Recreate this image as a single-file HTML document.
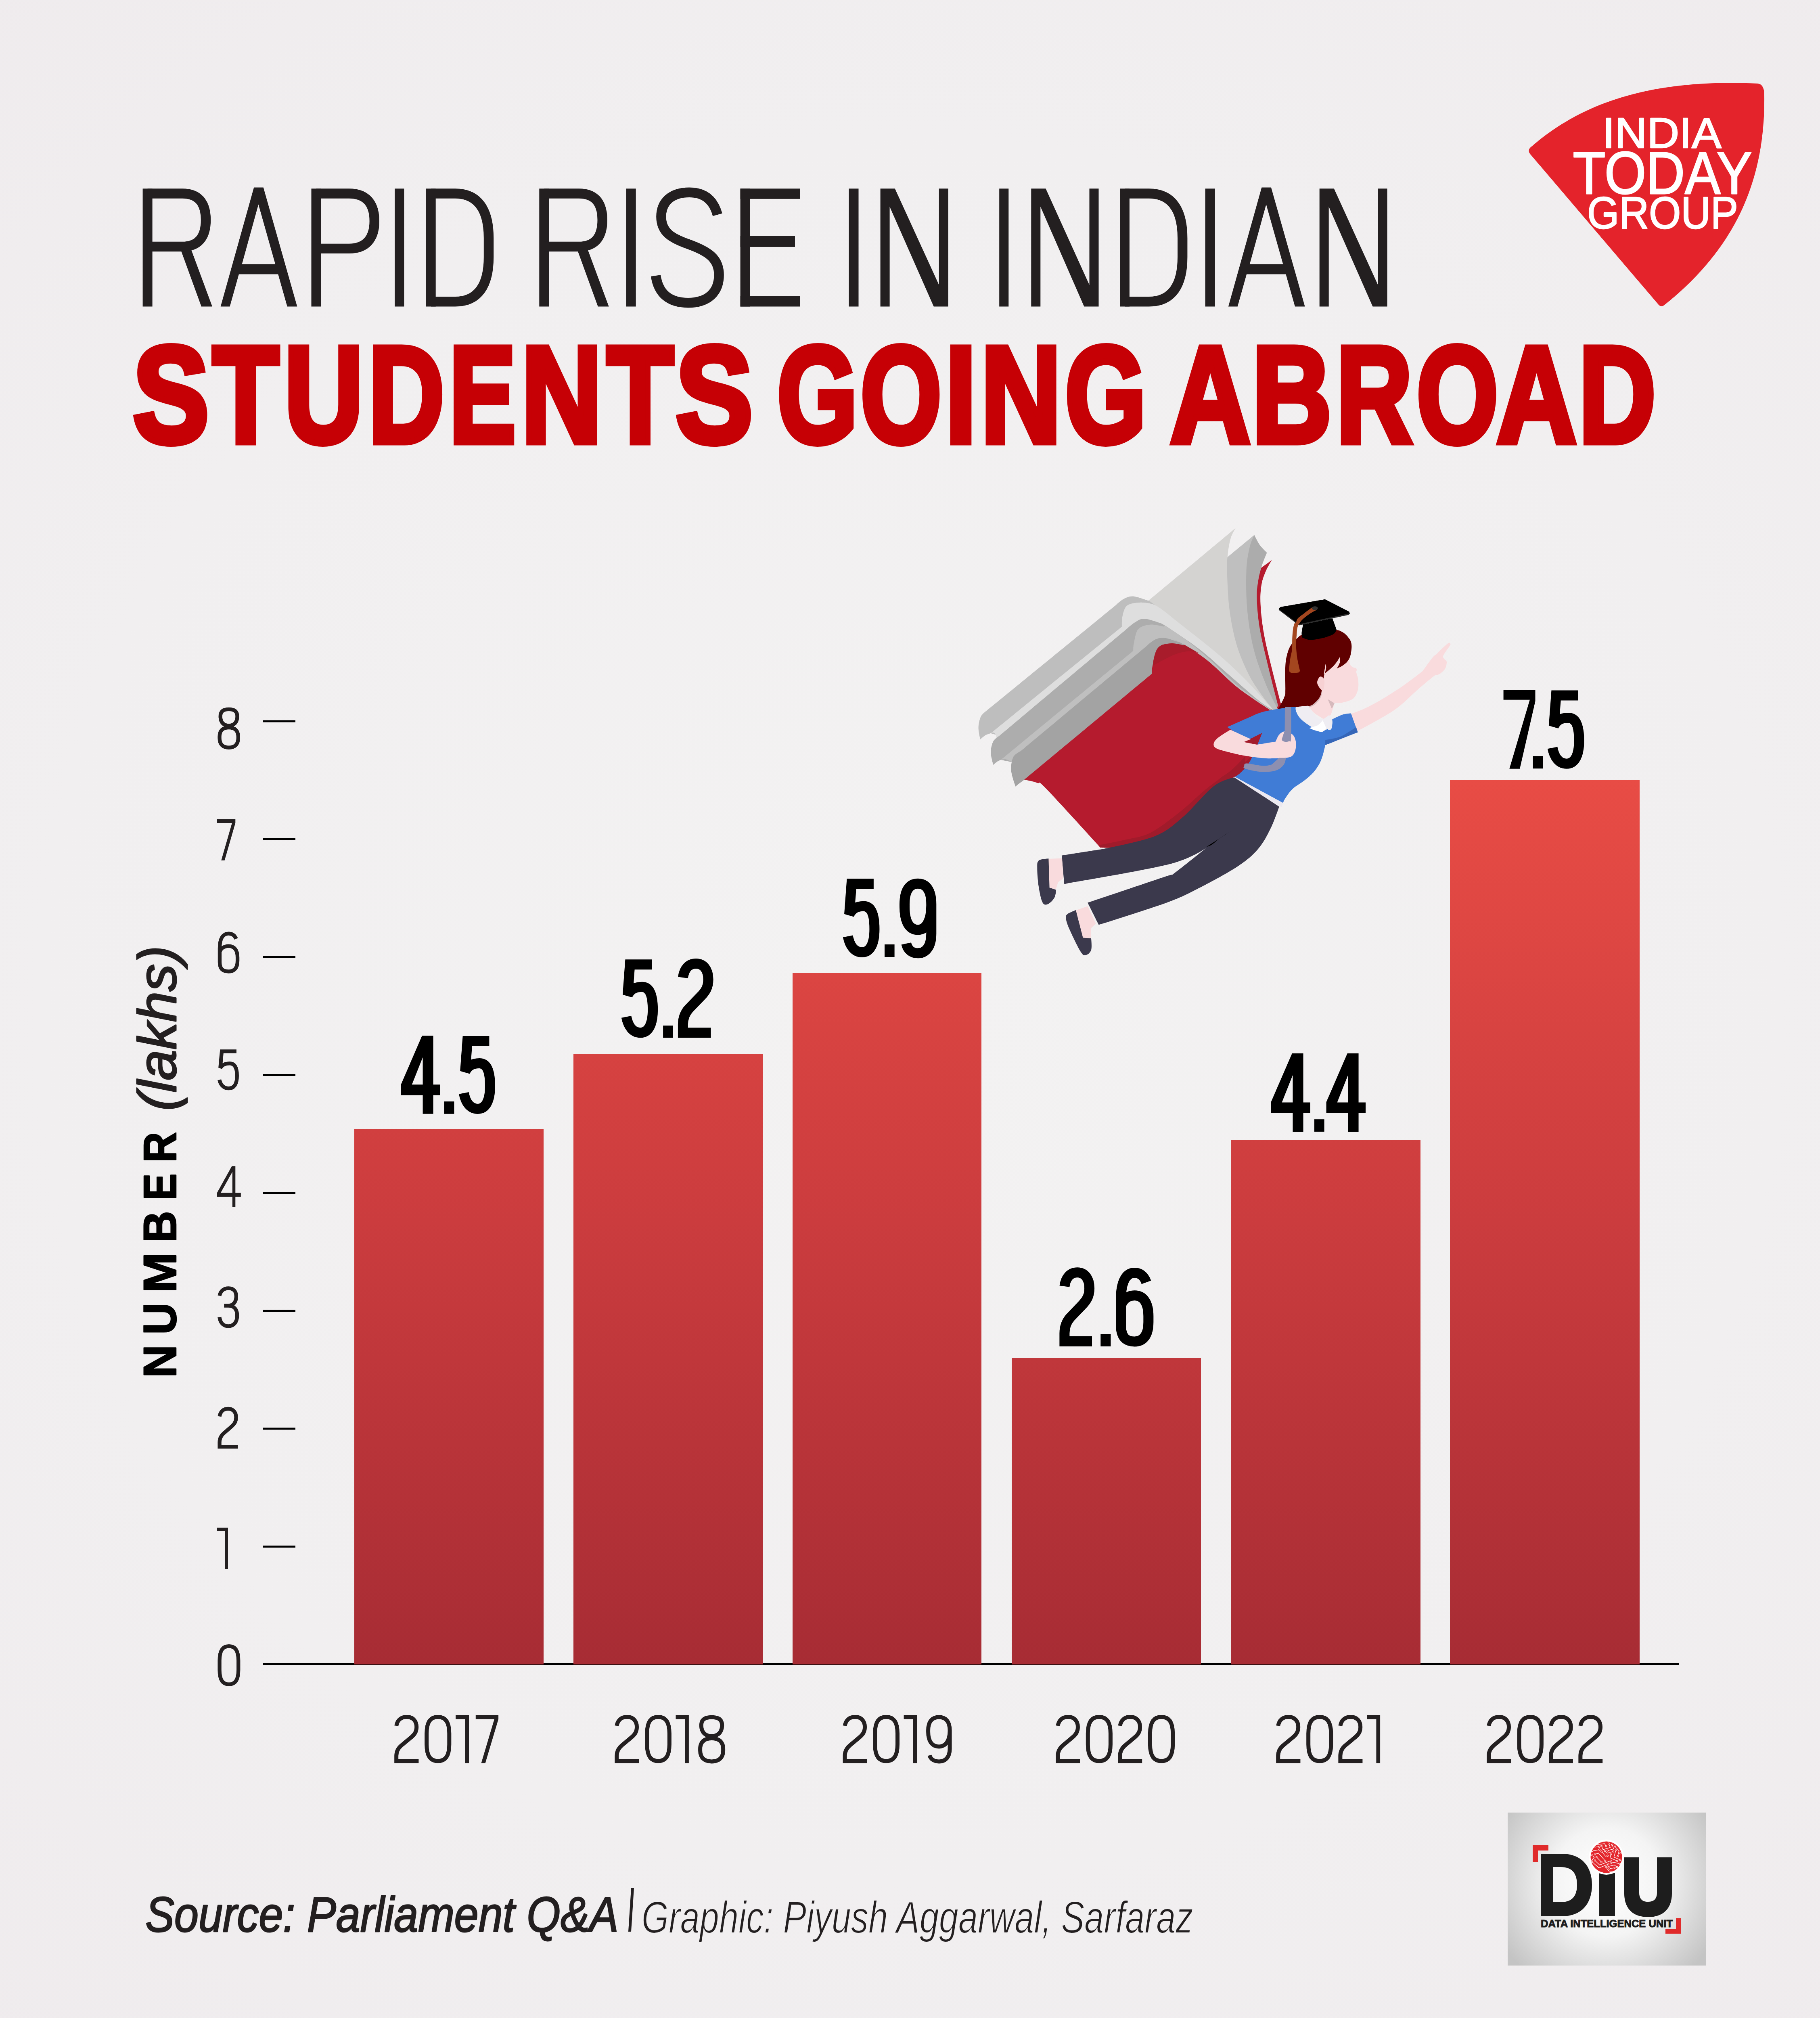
<!DOCTYPE html>
<html><head><meta charset="utf-8">
<style>
html,body{margin:0;padding:0;width:4510px;height:5151px;overflow:hidden;background:#f0eeef;}
svg{display:block;position:absolute;left:0;top:0;}
text{font-family:"Liberation Sans",sans-serif;}
</style></head>
<body>
<svg width="4510" height="5151" viewBox="0 0 4510 5151">
<defs>
<radialGradient id="bg" cx="2255" cy="2500" r="3600" gradientUnits="userSpaceOnUse">
<stop offset="0" stop-color="#f3f2f2"/>
<stop offset="0.6" stop-color="#f1eff0"/>
<stop offset="1" stop-color="#efebed"/>
</radialGradient>
<linearGradient id="bar" x1="0" y1="1932" x2="0" y2="4124" gradientUnits="userSpaceOnUse">
<stop offset="0" stop-color="#e84c45"/>
<stop offset="0.5" stop-color="#cb3c3e"/>
<stop offset="1" stop-color="#a72c34"/>
</linearGradient>
<radialGradient id="diubg" cx="3981" cy="4663" r="300" gradientUnits="userSpaceOnUse">
<stop offset="0" stop-color="#ffffff"/>
<stop offset="0.45" stop-color="#f4f4f4"/>
<stop offset="1" stop-color="#c4c4c4"/>
</radialGradient>
</defs>
<rect x="0" y="0" width="4510" height="5151" fill="url(#bg)"/>

<!-- TITLE -->
<g id="title">
<g id="title1">
<rect x="353.6" y="467.3" width="24.0" height="292.2" fill="#231f20"/>
<path d="M365.6 479.5 H452.0 C489.0 479.5 510.0 500.0 510.0 545.0 C510.0 590.0 489.0 611.0 452.0 611.0 H365.6" fill="none" stroke="#231f20" stroke-width="24.4"/>
<path d="M445.0 611.0 L471.0 611.0 L526.0 759.5 L499.0 759.5 Z" fill="#231f20" fill-rule="evenodd"/>
<path d="M629.2 464.6 L652.7 464.6 L736.4 759.5 L711.8 759.5 L689.2 679.5 L591.9 679.5 L569.5 759.5 L546.7 759.5 Z M640.4 506.5 L682.2 654.4 L599.6 654.4 Z" fill="#231f20" fill-rule="evenodd"/>
<rect x="771.5" y="467.3" width="23.5" height="292.2" fill="#231f20"/>
<path d="M783.5 479.5 H865.0 C906.0 479.5 927.8 503.0 927.8 547.7 C927.8 592.0 906.0 615.9 865.0 615.9 H783.5" fill="none" stroke="#231f20" stroke-width="24.4"/>
<rect x="978.0" y="467.3" width="23.4" height="292.2" fill="#231f20"/>
<rect x="1056.0" y="467.3" width="23.7" height="292.2" fill="#231f20"/>
<path d="M1068.0 479.5 H1128.0 C1186.0 479.5 1211.0 522.0 1211.0 590.0 L1211.0 637.0 C1211.0 705.0 1186.0 747.3 1128.0 747.3 H1068.0" fill="none" stroke="#231f20" stroke-width="24.4"/>
<rect x="1336.3" y="467.3" width="24.0" height="292.2" fill="#231f20"/>
<path d="M1348.3 479.5 H1434.7 C1471.7 479.5 1492.7 500.0 1492.7 545.0 C1492.7 590.0 1471.7 611.0 1434.7 611.0 H1348.3" fill="none" stroke="#231f20" stroke-width="24.4"/>
<path d="M1427.7 611.0 L1453.7 611.0 L1508.7 759.5 L1481.7 759.5 Z" fill="#231f20" fill-rule="evenodd"/>
<rect x="1551.7" y="467.3" width="24.0" height="292.2" fill="#231f20"/>
<path d="M1778 532 C1768 496 1746 476.8 1708 476.8 C1664 476.8 1638.4 500 1638.4 537 C1638.4 576 1666 591 1706 605 C1756 623 1781.6 641 1781.6 681 C1781.6 726 1752 750.2 1705 750.2 C1659 750.2 1631.5 728 1625 683" fill="none" stroke="#231f20" stroke-width="24.4"/>
<rect x="1834.6" y="467.3" width="24.2" height="292.2" fill="#231f20"/>
<rect x="1834.6" y="467.3" width="148.4" height="25.5" fill="#231f20"/>
<rect x="1834.6" y="585.0" width="135.4" height="26.9" fill="#231f20"/>
<rect x="1834.6" y="734.0" width="148.4" height="25.5" fill="#231f20"/>
<rect x="2103.5" y="467.3" width="24.0" height="292.2" fill="#231f20"/>
<path d="M2181.6 467.3 L2217.6 467.3 L2326.8 706.0 L2326.8 467.3 L2349.8 467.3 L2349.8 759.5 L2313.8 759.5 L2204.6 512.0 L2204.6 759.5 L2181.6 759.5 Z" fill="#231f20" fill-rule="evenodd"/>
<rect x="2476.2" y="467.3" width="23.1" height="292.2" fill="#231f20"/>
<path d="M2555.3 467.3 L2591.3 467.3 L2699.5 706.0 L2699.5 467.3 L2722.5 467.3 L2722.5 759.5 L2686.5 759.5 L2578.3 512.0 L2578.3 759.5 L2555.3 759.5 Z" fill="#231f20" fill-rule="evenodd"/>
<rect x="2775.2" y="467.3" width="23.7" height="292.2" fill="#231f20"/>
<path d="M2787.2 479.5 H2847.2 C2905.2 479.5 2930.2 522.0 2930.2 590.0 L2930.2 637.0 C2930.2 705.0 2905.2 747.3 2847.2 747.3 H2787.2" fill="none" stroke="#231f20" stroke-width="24.4"/>
<rect x="2986.6" y="467.3" width="24.3" height="292.2" fill="#231f20"/>
<path d="M3126.4 464.6 L3149.9 464.6 L3233.6 759.5 L3209.0 759.5 L3186.4 679.5 L3089.1 679.5 L3066.7 759.5 L3043.9 759.5 Z M3137.6 506.5 L3179.4 654.4 L3096.8 654.4 Z" fill="#231f20" fill-rule="evenodd"/>
<path d="M3269.7 467.3 L3305.7 467.3 L3414.6 706.0 L3414.6 467.3 L3437.6 467.3 L3437.6 759.5 L3401.6 759.5 L3292.7 512.0 L3292.7 759.5 L3269.7 759.5 Z" fill="#231f20" fill-rule="evenodd"/>
</g>
<g id="title2" fill="#c60005" stroke="#c60005" stroke-width="16" stroke-linejoin="miter" font-weight="bold">
<text x="329.5" y="1095.6" font-size="340.4" textLength="188.4" lengthAdjust="spacingAndGlyphs">S</text>
<text x="527.1" y="1095.6" font-size="340.4" textLength="164.0" lengthAdjust="spacingAndGlyphs">T</text>
<text x="704.7" y="1095.6" font-size="340.4" textLength="195.4" lengthAdjust="spacingAndGlyphs">U</text>
<text x="912.8" y="1095.6" font-size="340.4" textLength="188.1" lengthAdjust="spacingAndGlyphs">D</text>
<text x="1113.4" y="1095.6" font-size="340.4" textLength="164.7" lengthAdjust="spacingAndGlyphs">E</text>
<text x="1292.2" y="1095.6" font-size="340.4" textLength="199.9" lengthAdjust="spacingAndGlyphs">N</text>
<text x="1504.0" y="1095.6" font-size="340.4" textLength="164.5" lengthAdjust="spacingAndGlyphs">T</text>
<text x="1674.6" y="1095.6" font-size="340.4" textLength="190.9" lengthAdjust="spacingAndGlyphs">S</text>
<text x="1926.0" y="1095.6" font-size="340.4" textLength="199.1" lengthAdjust="spacingAndGlyphs">G</text>
<text x="2132.6" y="1095.6" font-size="340.4" textLength="200.5" lengthAdjust="spacingAndGlyphs">O</text>
<text x="2342.7" y="1095.6" font-size="340.4" textLength="76.6" lengthAdjust="spacingAndGlyphs">I</text>
<text x="2430.6" y="1095.6" font-size="340.4" textLength="199.1" lengthAdjust="spacingAndGlyphs">N</text>
<text x="2639.4" y="1095.6" font-size="340.4" textLength="201.0" lengthAdjust="spacingAndGlyphs">G</text>
<text x="2899.8" y="1095.6" font-size="340.4" textLength="198.5" lengthAdjust="spacingAndGlyphs">A</text>
<text x="3102.7" y="1095.6" font-size="340.4" textLength="196.8" lengthAdjust="spacingAndGlyphs">B</text>
<text x="3311.5" y="1095.6" font-size="340.4" textLength="187.8" lengthAdjust="spacingAndGlyphs">R</text>
<text x="3510.5" y="1095.6" font-size="340.4" textLength="201.8" lengthAdjust="spacingAndGlyphs">O</text>
<text x="3708.8" y="1095.6" font-size="340.4" textLength="197.8" lengthAdjust="spacingAndGlyphs">A</text>
<text x="3912.5" y="1095.6" font-size="340.4" textLength="190.2" lengthAdjust="spacingAndGlyphs">D</text>
</g>


</g>

<!-- LOGO -->
<g id="logo">
<path d="M3794 364 C3925 250 4100 195 4356 207 Q4372 209 4372 236 C4374 420 4320 600 4124 756 Q4117 762 4110 755 L3792 382 Q3784 372 3794 364 Z" fill="#e4232b"/>
<g fill="#fff" stroke="#fff" stroke-linejoin="round">
<text x="3971.1" y="365.8" font-size="106.1" stroke-width="2.5" textLength="294.6" lengthAdjust="spacingAndGlyphs">INDIA</text>
<text x="3897.4" y="479.5" font-size="148.3" stroke-width="3" textLength="444.7" lengthAdjust="spacingAndGlyphs">TODAY</text>
<text x="3933.1" y="566.3" font-size="111.2" stroke-width="2.5" textLength="374" lengthAdjust="spacingAndGlyphs">GROUP</text>
</g>
</g>

<!-- AXIS -->
<g id="axis" fill="#000">
<rect x="651" y="4121" width="3509" height="5"/>
<rect x="651" y="1784.5" width="81" height="5"/>
<rect x="651" y="2076.6" width="81" height="5"/>
<rect x="651" y="2368.8" width="81" height="5"/>
<rect x="651" y="2661" width="81" height="5"/>
<rect x="651" y="2953.1" width="81" height="5"/>
<rect x="651" y="3245.3" width="81" height="5"/>
<rect x="651" y="3537.4" width="81" height="5"/>
<rect x="651" y="3829.6" width="81" height="5"/>
</g>


<!-- BARS -->
<g id="bars" fill="url(#bar)">
<rect x="878" y="2798" width="469" height="1326"/>
<rect x="1421" y="2611" width="469" height="1513"/>
<rect x="1964" y="2411" width="468" height="1713"/>
<rect x="2507" y="3365" width="469" height="759"/>
<rect x="3050" y="2825" width="470" height="1299"/>
<rect x="3593" y="1932" width="470" height="2192"/>
</g>

<g id="ylabels">
<path transform="matrix(0.83207 0 0 0.86723 539.90 4074.40)" d="M5 46 C5 17 15 5 33 5 C51 5 61.1 17 61.1 46 L61.1 73 C61.1 102 51 114 33 114 C15 114 5 102 5 73 Z" fill="none" stroke="#231f20" stroke-width="9.30" vector-effect="non-scaling-stroke"/>
<path transform="matrix(0.82067 0 0 0.85714 538.00 3785.00)" d="M0 0 H32.9 V119 H23.2 V10.5 H0 Z" fill="#231f20" fill-rule="evenodd"/>
<path transform="matrix(0.81954 0 0 0.86387 539.80 3486.20)" d="M5.2 27 C7.5 13 17 5 31 5 C46 5 55.2 15 55.2 30 C55.2 42 50 49 40 57 L17 76 C9 83 5.2 91 5.2 101 L5.2 114 L60.4 114" fill="none" stroke="#231f20" stroke-width="9.30" vector-effect="non-scaling-stroke"/>
<path transform="matrix(0.87227 0 0 0.87227 539.70 3187.00)" d="M4.8 27 C8 13 17 5.7 30.6 5.7 C45 5.7 52.4 15 52.4 29 C52.4 45 43 55.1 30 55.1 L17.8 55.1 M30 55.1 C46 55.1 55 66 55 83 C55 103 44 113.3 30.3 113.3 C16 113.3 7 104 4.7 87.5" fill="none" stroke="#231f20" stroke-width="9.30" vector-effect="non-scaling-stroke"/>
<path transform="matrix(0.85507 0 0 0.85462 537.80 2889.30)" d="M43 0 L53.2 0 L53.2 77.4 L69 77.4 L69 88.8 L53.2 88.8 L53.2 119 L44.5 119 L44.5 88.8 L0 88.8 L0 77.4 Z M44.5 16.6 L10.5 77.4 L44.5 77.4 Z" fill="#231f20" fill-rule="evenodd"/>
<path transform="matrix(0.85149 0 0 0.85210 539.70 2600.00)" d="M54.3 5.7 L11.6 5.7 L7.2 54 C13 45 21 41 35 41 C50 41 55.9 54 55.9 77 C55.9 101 47 113.5 32 113.5 C17 113.5 8 103 4.6 88.4" fill="none" stroke="#231f20" stroke-width="9.30" vector-effect="non-scaling-stroke"/>
<path transform="matrix(0.86767 0 0 0.86975 540.60 2308.20)" d="M51.4 20.6 C47 10 39 5.6 29.7 5.6 C14 5.6 4.4 19.5 4.4 48 L4.4 87 C4.4 107 14 113.6 29.9 113.6 C46 113.6 55.3 103.5 55.3 83 L55.3 73.6 C55.3 53 46 41.2 29.9 41.2 C17 41.2 8 48 4.4 57.5" fill="none" stroke="#231f20" stroke-width="9.30" vector-effect="non-scaling-stroke"/>
<path transform="matrix(0.82238 0 0 0.85546 537.00 2030.00)" d="M0 0 H56.3 V10.5 L23.8 119 H13.7 L46.2 10.5 H0 Z" fill="#231f20" fill-rule="evenodd"/>
<path transform="matrix(0.81222 0 0 0.86807 539.80 1752.40)" d="M7.9 26 C7.9 12 16 5.8 33.6 5.8 C51 5.8 59.3 12 59.3 26 C59.3 43 49 52.4 33.6 52.4 C18 52.4 7.9 43 7.9 26 Z M5.2 84 C5.2 66 16 57.9 33.6 57.9 C51 57.9 62.2 66 62.2 84 L62.2 88 C62.2 106 51 115 33.6 115 C16 115 5.2 106 5.2 88 Z" fill="none" stroke="#231f20" stroke-width="9.30" vector-effect="non-scaling-stroke"/>
</g>
<g id="years">
<path transform="matrix(1.00000 0 0 1.00420 977.00 4248.90)" d="M5.2 27 C7.5 13 17 5 31 5 C46 5 55.2 15 55.2 30 C55.2 42 50 49 40 57 L17 76 C9 83 5.2 91 5.2 101 L5.2 114 L60.4 114" fill="none" stroke="#231f20" stroke-width="10.00" vector-effect="non-scaling-stroke"/>
<path transform="matrix(1.00000 0 0 1.00420 1052.20 4248.90)" d="M5 46 C5 17 15 5 33 5 C51 5 61.1 17 61.1 46 L61.1 73 C61.1 102 51 114 33 114 C15 114 5 102 5 73 Z" fill="none" stroke="#231f20" stroke-width="10.00" vector-effect="non-scaling-stroke"/>
<path transform="matrix(1.00000 0 0 1.00420 1129.10 4248.90)" d="M0 0 H32.9 V119 H23.2 V10.5 H0 Z" fill="#231f20" fill-rule="evenodd"/>
<path transform="matrix(1.00000 0 0 1.00420 1178.80 4248.90)" d="M0 0 H56.3 V10.5 L23.8 119 H13.7 L46.2 10.5 H0 Z" fill="#231f20" fill-rule="evenodd"/>
<path transform="matrix(0.99338 0 0 1.00420 1523.20 4248.90)" d="M5.2 27 C7.5 13 17 5 31 5 C46 5 55.2 15 55.2 30 C55.2 42 50 49 40 57 L17 76 C9 83 5.2 91 5.2 101 L5.2 114 L60.4 114" fill="none" stroke="#231f20" stroke-width="10.00" vector-effect="non-scaling-stroke"/>
<path transform="matrix(0.98941 0 0 1.00420 1598.40 4248.90)" d="M5 46 C5 17 15 5 33 5 C51 5 61.1 17 61.1 46 L61.1 73 C61.1 102 51 114 33 114 C15 114 5 102 5 73 Z" fill="none" stroke="#231f20" stroke-width="10.00" vector-effect="non-scaling-stroke"/>
<path transform="matrix(0.98480 0 0 1.00420 1674.50 4248.90)" d="M0 0 H32.9 V119 H23.2 V10.5 H0 Z" fill="#231f20" fill-rule="evenodd"/>
<path transform="matrix(1.00000 0 0 1.00420 1729.90 4248.90)" d="M7.9 26 C7.9 12 16 5.8 33.6 5.8 C51 5.8 59.3 12 59.3 26 C59.3 43 49 52.4 33.6 52.4 C18 52.4 7.9 43 7.9 26 Z M5.2 84 C5.2 66 16 57.9 33.6 57.9 C51 57.9 62.2 66 62.2 84 L62.2 88 C62.2 106 51 115 33.6 115 C16 115 5.2 106 5.2 88 Z" fill="none" stroke="#231f20" stroke-width="10.00" vector-effect="non-scaling-stroke"/>
<path transform="matrix(0.99007 0 0 1.00420 2088.40 4248.90)" d="M5.2 27 C7.5 13 17 5 31 5 C46 5 55.2 15 55.2 30 C55.2 42 50 49 40 57 L17 76 C9 83 5.2 91 5.2 101 L5.2 114 L60.4 114" fill="none" stroke="#231f20" stroke-width="10.00" vector-effect="non-scaling-stroke"/>
<path transform="matrix(0.99546 0 0 1.00420 2163.20 4248.90)" d="M5 46 C5 17 15 5 33 5 C51 5 61.1 17 61.1 46 L61.1 73 C61.1 102 51 114 33 114 C15 114 5 102 5 73 Z" fill="none" stroke="#231f20" stroke-width="10.00" vector-effect="non-scaling-stroke"/>
<path transform="matrix(0.98480 0 0 1.00420 2239.60 4248.90)" d="M0 0 H32.9 V119 H23.2 V10.5 H0 Z" fill="#231f20" fill-rule="evenodd"/>
<path transform="matrix(1.00000 0 0 1.00420 2295.10 4248.90)" d="M58.4 40 C58.4 64 48 78.2 31.8 78.2 C15 78.2 5 66 5 42 L5 38 C5 16 15 5.5 31.8 5.5 C48 5.5 58.4 16 58.4 38 L58.4 84 C58.4 104 48 115 31.8 115 C19 115 11 109 8.4 99.8" fill="none" stroke="#231f20" stroke-width="10.00" vector-effect="non-scaling-stroke"/>
<path transform="matrix(0.99172 0 0 1.00420 2616.20 4248.90)" d="M5.2 27 C7.5 13 17 5 31 5 C46 5 55.2 15 55.2 30 C55.2 42 50 49 40 57 L17 76 C9 83 5.2 91 5.2 101 L5.2 114 L60.4 114" fill="none" stroke="#231f20" stroke-width="10.00" vector-effect="non-scaling-stroke"/>
<path transform="matrix(1.00000 0 0 1.00420 2690.80 4248.90)" d="M5 46 C5 17 15 5 33 5 C51 5 61.1 17 61.1 46 L61.1 73 C61.1 102 51 114 33 114 C15 114 5 102 5 73 Z" fill="none" stroke="#231f20" stroke-width="10.00" vector-effect="non-scaling-stroke"/>
<path transform="matrix(0.99172 0 0 1.00420 2770.30 4248.90)" d="M5.2 27 C7.5 13 17 5 31 5 C46 5 55.2 15 55.2 30 C55.2 42 50 49 40 57 L17 76 C9 83 5.2 91 5.2 101 L5.2 114 L60.4 114" fill="none" stroke="#231f20" stroke-width="10.00" vector-effect="non-scaling-stroke"/>
<path transform="matrix(1.00303 0 0 1.00420 2844.90 4248.90)" d="M5 46 C5 17 15 5 33 5 C51 5 61.1 17 61.1 46 L61.1 73 C61.1 102 51 114 33 114 C15 114 5 102 5 73 Z" fill="none" stroke="#231f20" stroke-width="10.00" vector-effect="non-scaling-stroke"/>
<path transform="matrix(1.00000 0 0 1.00420 3162.00 4248.90)" d="M5.2 27 C7.5 13 17 5 31 5 C46 5 55.2 15 55.2 30 C55.2 42 50 49 40 57 L17 76 C9 83 5.2 91 5.2 101 L5.2 114 L60.4 114" fill="none" stroke="#231f20" stroke-width="10.00" vector-effect="non-scaling-stroke"/>
<path transform="matrix(1.00000 0 0 1.00420 3237.20 4248.90)" d="M5 46 C5 17 15 5 33 5 C51 5 61.1 17 61.1 46 L61.1 73 C61.1 102 51 114 33 114 C15 114 5 102 5 73 Z" fill="none" stroke="#231f20" stroke-width="10.00" vector-effect="non-scaling-stroke"/>
<path transform="matrix(0.99669 0 0 1.00420 3316.20 4248.90)" d="M5.2 27 C7.5 13 17 5 31 5 C46 5 55.2 15 55.2 30 C55.2 42 50 49 40 57 L17 76 C9 83 5.2 91 5.2 101 L5.2 114 L60.4 114" fill="none" stroke="#231f20" stroke-width="10.00" vector-effect="non-scaling-stroke"/>
<path transform="matrix(0.99696 0 0 1.00420 3387.30 4248.90)" d="M0 0 H32.9 V119 H23.2 V10.5 H0 Z" fill="#231f20" fill-rule="evenodd"/>
<path transform="matrix(0.99669 0 0 1.00420 3684.00 4248.90)" d="M5.2 27 C7.5 13 17 5 31 5 C46 5 55.2 15 55.2 30 C55.2 42 50 49 40 57 L17 76 C9 83 5.2 91 5.2 101 L5.2 114 L60.4 114" fill="none" stroke="#231f20" stroke-width="10.00" vector-effect="non-scaling-stroke"/>
<path transform="matrix(0.98790 0 0 1.00420 3759.50 4248.90)" d="M5 46 C5 17 15 5 33 5 C51 5 61.1 17 61.1 46 L61.1 73 C61.1 102 51 114 33 114 C15 114 5 102 5 73 Z" fill="none" stroke="#231f20" stroke-width="10.00" vector-effect="non-scaling-stroke"/>
<path transform="matrix(0.99007 0 0 1.00420 3838.10 4248.90)" d="M5.2 27 C7.5 13 17 5 31 5 C46 5 55.2 15 55.2 30 C55.2 42 50 49 40 57 L17 76 C9 83 5.2 91 5.2 101 L5.2 114 L60.4 114" fill="none" stroke="#231f20" stroke-width="10.00" vector-effect="non-scaling-stroke"/>
<path transform="matrix(0.99338 0 0 1.00420 3911.20 4248.90)" d="M5.2 27 C7.5 13 17 5 31 5 C46 5 55.2 15 55.2 30 C55.2 42 50 49 40 57 L17 76 C9 83 5.2 91 5.2 101 L5.2 114 L60.4 114" fill="none" stroke="#231f20" stroke-width="10.00" vector-effect="non-scaling-stroke"/>
</g>
<g id="vals">
<path transform="matrix(1.62647 0 0 1.62857 993.90 2566.00)" d="M32 0 L49 0 L49 74.5 L59.7 74.5 L59.7 90.6 L49 90.6 L49 119 L33 119 L33 90.6 L0 90.6 L0 74 Z M33 33 L33 74.5 L16.5 74.5 Z" fill="#000" fill-rule="evenodd"/>
<rect x="1101.0" y="2729.1" width="24.4" height="30.7" fill="#000"/>
<path transform="matrix(1.26840 0 0 1.55744 1143.52 2570.68)" d="M54.3 5.7 L11.6 5.7 L7.2 54 C13 45 21 41 35 41 C50 41 55.9 54 55.9 77 C55.9 101 47 113.5 32 113.5 C17 113.5 8 103 4.6 88.4" fill="none" stroke="#000" stroke-width="25.0" vector-effect="non-scaling-stroke"/>
<path transform="matrix(1.27824 0 0 1.56661 1546.17 2380.94)" d="M54.3 5.7 L11.6 5.7 L7.2 54 C13 45 21 41 35 41 C50 41 55.9 54 55.9 77 C55.9 101 47 113.5 32 113.5 C17 113.5 8 103 4.6 88.4" fill="none" stroke="#000" stroke-width="25.0" vector-effect="non-scaling-stroke"/>
<rect x="1643.1" y="2541.0" width="24.1" height="30.2" fill="#000"/>
<path transform="matrix(1.25370 0 0 1.57119 1685.89 2379.61)" d="M5.2 27 C7.5 13 17 5 31 5 C46 5 55.2 15 55.2 30 C55.2 42 50 49 40 57 L17 76 C9 83 5.2 91 5.2 101 L5.2 114 L60.4 114" fill="none" stroke="#000" stroke-width="25.0" vector-effect="non-scaling-stroke"/>
<path transform="matrix(1.28218 0 0 1.57578 2095.25 2180.59)" d="M54.3 5.7 L11.6 5.7 L7.2 54 C13 45 21 41 35 41 C50 41 55.9 54 55.9 77 C55.9 101 47 113.5 32 113.5 C17 113.5 8 103 4.6 88.4" fill="none" stroke="#000" stroke-width="25.0" vector-effect="non-scaling-stroke"/>
<rect x="2192.0" y="2340.0" width="24.6" height="31.0" fill="#000"/>
<path transform="matrix(1.24185 0 0 1.57578 2235.26 2180.59)" d="M58.4 40 C58.4 64 48 78.2 31.8 78.2 C15 78.2 5 66 5 42 L5 38 C5 16 15 5.5 31.8 5.5 C48 5.5 58.4 16 58.4 38 L58.4 84 C58.4 104 48 115 31.8 115 C19 115 11 109 8.4 99.8" fill="none" stroke="#000" stroke-width="25.0" vector-effect="non-scaling-stroke"/>
<path transform="matrix(1.23395 0 0 1.56753 2631.48 3144.83)" d="M5.2 27 C7.5 13 17 5 31 5 C46 5 55.2 15 55.2 30 C55.2 42 50 49 40 57 L17 76 C9 83 5.2 91 5.2 101 L5.2 114 L60.4 114" fill="none" stroke="#000" stroke-width="25.0" vector-effect="non-scaling-stroke"/>
<rect x="2727.3" y="3305.0" width="25.1" height="31.0" fill="#000"/>
<path transform="matrix(1.34149 0 0 1.57670 2771.66 3144.79)" d="M51.4 20.6 C47 10 39 5.6 29.7 5.6 C14 5.6 4.4 19.5 4.4 48 L4.4 87 C4.4 107 14 113.6 29.9 113.6 C46 113.6 55.3 103.5 55.3 83 L55.3 73.6 C55.3 53 46 41.2 29.9 41.2 C17 41.2 8 48 4.4 57.5" fill="none" stroke="#000" stroke-width="25.0" vector-effect="non-scaling-stroke"/>
<path transform="matrix(1.63149 0 0 1.62941 3149.60 2610.00)" d="M32 0 L49 0 L49 74.5 L59.7 74.5 L59.7 90.6 L49 90.6 L49 119 L33 119 L33 90.6 L0 90.6 L0 74 Z M33 33 L33 74.5 L16.5 74.5 Z" fill="#000" fill-rule="evenodd"/>
<rect x="3257.0" y="2773.2" width="24.6" height="30.7" fill="#000"/>
<path transform="matrix(1.63149 0 0 1.62941 3286.60 2610.00)" d="M32 0 L49 0 L49 74.5 L59.7 74.5 L59.7 90.6 L49 90.6 L49 119 L33 119 L33 90.6 L0 90.6 L0 74 Z M33 33 L33 74.5 L16.5 74.5 Z" fill="#000" fill-rule="evenodd"/>
<path transform="matrix(1.64033 0 0 1.64118 3725.60 1709.40)" d="M0 0 L48.1 0 L48.1 17 L24.7 119 L9 119 L39.8 14.8 L0 14.8 Z" fill="#000" fill-rule="evenodd"/>
<rect x="3798.7" y="1873.2" width="25.1" height="31.0" fill="#000"/>
<path transform="matrix(1.28611 0 0 1.57028 3841.13 1714.02)" d="M54.3 5.7 L11.6 5.7 L7.2 54 C13 45 21 41 35 41 C50 41 55.9 54 55.9 77 C55.9 101 47 113.5 32 113.5 C17 113.5 8 103 4.6 88.4" fill="none" stroke="#000" stroke-width="25.0" vector-effect="non-scaling-stroke"/>
</g>
<g transform="rotate(-90)">
<text x="-3413.9" y="435.8" font-size="115.55" textLength="82.3" lengthAdjust="spacingAndGlyphs" fill="#000" font-weight="bold" stroke="#000" stroke-width="2.5" stroke-linejoin="round">N</text>
<text x="-3307.1" y="435.8" font-size="115.55" textLength="79.5" lengthAdjust="spacingAndGlyphs" fill="#000" font-weight="bold" stroke="#000" stroke-width="2.5" stroke-linejoin="round">U</text>
<text x="-3203.5" y="435.8" font-size="115.55" textLength="100.3" lengthAdjust="spacingAndGlyphs" fill="#000" font-weight="bold" stroke="#000" stroke-width="2.5" stroke-linejoin="round">M</text>
<text x="-3078.9" y="435.8" font-size="115.55" textLength="78.9" lengthAdjust="spacingAndGlyphs" fill="#000" font-weight="bold" stroke="#000" stroke-width="2.5" stroke-linejoin="round">B</text>
<text x="-2973.9" y="435.8" font-size="115.55" textLength="66.6" lengthAdjust="spacingAndGlyphs" fill="#000" font-weight="bold" stroke="#000" stroke-width="2.5" stroke-linejoin="round">E</text>
<text x="-2880.8" y="435.8" font-size="115.55" textLength="76.2" lengthAdjust="spacingAndGlyphs" fill="#000" font-weight="bold" stroke="#000" stroke-width="2.5" stroke-linejoin="round">R</text>
<text x="-2752.5" y="435.7" font-size="133.72" textLength="409.6" lengthAdjust="spacingAndGlyphs" font-style="italic" fill="#231f20" stroke="#231f20" stroke-width="3" stroke-linejoin="round">(lakhs)</text>
</g>






<!-- SOURCE -->
<text x="360.3" y="4786.3" font-size="122.1" font-style="italic" fill="#231f20" stroke="#231f20" stroke-width="3" stroke-linejoin="round" textLength="1172.3" lengthAdjust="spacingAndGlyphs">Source: Parliament Q&amp;A</text>
<polygon points="1564,4678 1571,4678 1564,4786 1557,4786" fill="#231f20"/>
<text x="1589.7" y="4788.6" font-size="110.5" font-style="italic" fill="#231f20" stroke="#f1eff0" stroke-width="2" textLength="1366.8" lengthAdjust="spacingAndGlyphs">Graphic: Piyush Aggarwal, Sarfaraz</text>

<!-- DIU LOGO -->
<g id="diu">
<rect x="3736" y="4491" width="491" height="379" fill="url(#diubg)"/>
<path fill="#e02a2a" d="M3798 4572 H3837 V4585 H3811 V4613 H3798 Z"/>
<path fill="#e02a2a" d="M4166 4791 H4127 V4779 H4153 V4753 H4166 Z"/>
<path fill="#1d1d1d" fill-rule="evenodd" d="M3818 4593 H3870 C3920 4593 3945 4625 3945 4670 C3945 4716 3920 4748 3870 4748 H3818 Z M3848 4626 V4713 H3868 C3896 4713 3908 4697 3908 4670 C3908 4642 3896 4626 3868 4626 Z"/>
<rect x="3962" y="4640" width="40" height="108" fill="#1d1d1d"/>
<path fill="#1d1d1d" d="M4025 4602 H4062 V4690 C4062 4705 4070 4712 4084 4712 C4098 4712 4106 4705 4106 4690 V4602 H4143 V4692 C4143 4728 4122 4750 4084 4750 C4046 4750 4025 4728 4025 4692 Z"/>
<circle cx="3980.5" cy="4601.5" r="43.5" fill="#ffffff"/>
<circle cx="3980.5" cy="4601.5" r="39" fill="#e3262c"/>
<g transform="translate(3930 4550) scale(0.0558)" stroke="#fff" fill="none" stroke-width="24" stroke-linejoin="miter">
<path d="M470 370 L820 320 L890 420"/>
<path d="M380 480 L590 460"/>
<path d="M240 700 L330 640 L600 590"/>
<path d="M690 430 L760 590 L1080 490 L1010 320"/>
<path d="M1170 370 L1230 560 L960 630"/>
<path d="M1290 450 L1470 640 L1410 880"/>
<path d="M830 650 L940 750 L1210 670"/>
<path d="M690 670 L870 880 L960 860"/>
<path d="M400 800 L550 740 L860 1090"/>
<path d="M280 840 L370 930 L240 1090"/>
<path d="M470 920 L690 1140"/>
<path d="M1110 800 L1070 950 L1390 1090"/>
<path d="M1330 620 L1240 920 L1520 1040"/>
<path d="M400 1070 L610 1270 L1100 1080"/>
<path d="M270 1120 L370 1220 L580 1400 L1000 1230"/>
<path d="M1130 1180 L1250 1150 L1500 1220"/>
<path d="M880 1360 L1020 1540 L1180 1550"/>
<path d="M970 1340 L1260 1270 L1380 1360"/>
<path d="M1040 1430 L1270 1400"/>
<circle cx="890" cy="440" r="34" fill="#e3262c" stroke-width="20"/>
<circle cx="590" cy="460" r="34" fill="#e3262c" stroke-width="20"/>
<circle cx="600" cy="590" r="34" fill="#e3262c" stroke-width="20"/>
<circle cx="690" cy="430" r="34" fill="#e3262c" stroke-width="20"/>
<circle cx="1010" cy="320" r="34" fill="#e3262c" stroke-width="20"/>
<circle cx="1170" cy="370" r="34" fill="#e3262c" stroke-width="20"/>
<circle cx="960" cy="630" r="34" fill="#e3262c" stroke-width="20"/>
<circle cx="1290" cy="450" r="34" fill="#e3262c" stroke-width="20"/>
<circle cx="1410" cy="880" r="34" fill="#e3262c" stroke-width="20"/>
<circle cx="830" cy="650" r="34" fill="#e3262c" stroke-width="20"/>
<circle cx="1210" cy="670" r="34" fill="#e3262c" stroke-width="20"/>
<circle cx="690" cy="670" r="34" fill="#e3262c" stroke-width="20"/>
<circle cx="960" cy="860" r="34" fill="#e3262c" stroke-width="20"/>
<circle cx="400" cy="800" r="34" fill="#e3262c" stroke-width="20"/>
<circle cx="860" cy="1090" r="34" fill="#e3262c" stroke-width="20"/>
<circle cx="280" cy="840" r="34" fill="#e3262c" stroke-width="20"/>
<circle cx="470" cy="920" r="34" fill="#e3262c" stroke-width="20"/>
<circle cx="690" cy="1140" r="34" fill="#e3262c" stroke-width="20"/>
<circle cx="1110" cy="800" r="34" fill="#e3262c" stroke-width="20"/>
<circle cx="1390" cy="1090" r="34" fill="#e3262c" stroke-width="20"/>
<circle cx="1330" cy="620" r="34" fill="#e3262c" stroke-width="20"/>
<circle cx="1520" cy="1040" r="34" fill="#e3262c" stroke-width="20"/>
<circle cx="400" cy="1070" r="34" fill="#e3262c" stroke-width="20"/>
<circle cx="1100" cy="1080" r="34" fill="#e3262c" stroke-width="20"/>
<circle cx="270" cy="1120" r="34" fill="#e3262c" stroke-width="20"/>
<circle cx="1000" cy="1230" r="34" fill="#e3262c" stroke-width="20"/>
<circle cx="1130" cy="1180" r="34" fill="#e3262c" stroke-width="20"/>
<circle cx="1500" cy="1220" r="34" fill="#e3262c" stroke-width="20"/>
<circle cx="880" cy="1360" r="34" fill="#e3262c" stroke-width="20"/>
<circle cx="970" cy="1340" r="34" fill="#e3262c" stroke-width="20"/>
<circle cx="1380" cy="1360" r="34" fill="#e3262c" stroke-width="20"/>
<circle cx="1040" cy="1430" r="34" fill="#e3262c" stroke-width="20"/>
<circle cx="1270" cy="1400" r="34" fill="#e3262c" stroke-width="20"/>
<circle cx="1530" cy="750" r="34" fill="#e3262c" stroke-width="20"/>
</g>
<text x="3818" y="4775" font-size="25.4" font-weight="bold" fill="#1d1d1d" stroke="#1d1d1d" stroke-width="1.2" textLength="327" lengthAdjust="spacingAndGlyphs">DATA INTELLIGENCE UNIT</text>
</g>

<g id="girl">
<path d="M3151.6 1387.7 C3151.6 1387.7 3141.3 1404.4 3137.0 1414.5 C3132.7 1424.7 3128.2 1434.9 3126.0 1448.7 C3123.8 1462.6 3122.5 1477.2 3123.6 1497.6 C3124.6 1517.9 3127.4 1544.4 3132.1 1570.8 C3136.8 1597.3 3144.7 1627.8 3151.6 1656.3 C3158.6 1684.8 3173.6 1741.8 3173.6 1741.8 C3173.6 1741.8 3183.4 1768.6 3183.4 1768.6 C3183.4 1768.6 3154.1 1768.6 3154.1 1768.6 C3154.1 1768.6 3141.5 1691.3 3134.6 1656.3 C3127.6 1621.3 3117.0 1587.1 3112.6 1558.6 C3108.2 1530.1 3108.0 1505.7 3108.2 1485.4 C3108.4 1465.0 3111.0 1449.5 3113.8 1436.5 C3116.6 1423.5 3124.8 1407.2 3124.8 1407.2 C3124.8 1407.2 3151.6 1387.7 3151.6 1387.7Z" fill="#b51b2e"/>
<path d="M3108.2 1325.4 C3108.2 1325.4 3117.1 1343.7 3122.3 1351.0 C3127.6 1358.4 3139.4 1369.4 3139.4 1369.4 C3139.4 1369.4 3130.4 1390.3 3126.7 1402.3 C3123.1 1414.3 3119.5 1427.6 3117.5 1441.4 C3115.4 1455.2 3113.8 1465.8 3114.5 1485.4 C3115.3 1504.9 3117.0 1530.1 3121.9 1558.6 C3126.7 1587.1 3136.2 1624.6 3143.8 1656.3 C3151.4 1688.0 3167.5 1749.1 3167.5 1749.1 C3167.5 1749.1 3154.1 1761.3 3154.1 1761.3 C3154.1 1761.3 3005.5 1649.4 2970.9 1607.5 C2936.3 1565.5 2934.3 1546.4 2946.5 1509.8 C2958.7 1473.2 3044.2 1387.7 3044.2 1387.7 C3044.2 1387.7 3108.2 1325.4 3108.2 1325.4Z" fill="#acacac"/>
<path d="M3108.2 1325.4 C3108.2 1325.4 3100.0 1341.5 3096.7 1355.9 C3093.4 1370.4 3089.7 1386.5 3088.6 1412.1 C3087.6 1437.7 3087.6 1477.2 3090.6 1509.8 C3093.6 1542.3 3098.9 1576.9 3106.5 1607.5 C3114.0 1638.0 3125.8 1668.1 3135.8 1692.9 C3145.7 1717.8 3166.3 1756.4 3166.3 1756.4 C3166.3 1756.4 3154.1 1761.3 3154.1 1761.3 C3154.1 1761.3 2985.2 1649.4 2946.5 1607.5 C2907.9 1565.5 2906.2 1547.6 2922.1 1509.8 C2938.0 1471.9 3041.8 1380.4 3041.8 1380.4 C3041.8 1380.4 3108.2 1325.4 3108.2 1325.4Z" fill="#bfbfbf"/>
<path d="M3061.8 1308.3 C3061.8 1308.3 3052.8 1323.2 3049.6 1334.0 C3046.4 1344.7 3044.0 1359.2 3042.5 1373.0 C3041.0 1386.9 3040.1 1394.2 3040.8 1417.0 C3041.5 1439.8 3042.8 1480.1 3046.6 1509.8 C3050.5 1539.5 3056.0 1568.8 3063.7 1595.2 C3071.5 1621.7 3082.9 1647.8 3093.0 1668.5 C3103.2 1689.3 3114.2 1704.5 3124.8 1719.8 C3135.4 1735.1 3156.5 1760.1 3156.5 1760.1 C3156.5 1760.1 3141.9 1761.3 3141.9 1761.3 C3141.9 1761.3 3020.2 1653.0 2970.9 1607.5 C2921.7 1561.9 2846.4 1487.8 2846.4 1487.8 C2846.4 1487.8 3061.8 1308.3 3061.8 1308.3Z" fill="#d4d3d1"/>
<path d="M2429.2 1832.1 C2429.2 1832.1 2424.3 1812.4 2424.6 1803.0 C2424.8 1793.5 2427.1 1782.5 2430.7 1775.3 C2434.3 1768.2 2446.0 1760.0 2446.0 1760.0 C2446.0 1760.0 2763.7 1500.6 2763.7 1500.6 C2763.7 1500.6 2776.2 1488.2 2783.7 1484.4 C2791.1 1480.5 2798.0 1477.0 2808.2 1477.6 C2818.4 1478.3 2845.0 1488.4 2845.0 1488.4 C2845.0 1488.4 2846.4 1487.8 2846.4 1487.8 C2846.4 1487.8 2863.5 1500.0 2863.5 1500.0 C2863.5 1500.0 3154.1 1758.9 3154.1 1758.9 C3154.1 1758.9 2860.4 1941.1 2860.4 1941.1 C2860.4 1941.1 2455.2 1816.8 2455.2 1816.8 C2455.2 1816.8 2445.8 1819.4 2441.4 1822.0 C2437.1 1824.5 2429.2 1832.1 2429.2 1832.1Z" fill="#bebebe"/>
<path d="M2455.2 1816.8 C2455.2 1816.8 2780.0 1552.8 2780.0 1552.8 C2780.0 1552.8 2779.4 1535.4 2781.5 1526.7 C2783.7 1518.0 2785.8 1506.3 2792.9 1500.6 C2799.9 1495.0 2813.3 1493.5 2823.5 1493.0 C2833.8 1492.5 2854.2 1497.6 2854.2 1497.6 C2854.2 1497.6 2822.9 1492.3 2824.4 1492.7 C2826.0 1493.1 2847.2 1491.5 2863.5 1500.0 C2879.8 1508.6 2896.1 1523.6 2922.1 1544.0 C2948.1 1564.3 2991.3 1597.7 3019.8 1622.1 C3048.3 1646.5 3070.7 1667.7 3093.0 1690.5 C3115.4 1713.3 3154.1 1758.9 3154.1 1758.9 C3154.1 1758.9 2860.4 1941.1 2860.4 1941.1 C2860.4 1941.1 2479.8 1882.8 2479.8 1882.8 C2479.8 1882.8 2471.6 1832.4 2467.5 1821.4 C2463.4 1810.4 2455.2 1816.8 2455.2 1816.8Z" fill="#dedede"/>
<path d="M2461.4 1895.0 C2461.4 1895.0 2455.2 1874.1 2455.2 1864.3 C2455.2 1854.6 2457.8 1843.6 2461.4 1836.7 C2465.0 1829.8 2476.7 1822.9 2476.7 1822.9 C2476.7 1822.9 2791.3 1559.0 2791.3 1559.0 C2791.3 1559.0 2803.9 1547.0 2811.3 1542.7 C2818.7 1538.3 2824.6 1532.5 2835.8 1532.9 C2847.1 1533.3 2878.8 1545.1 2878.8 1545.1 C2878.8 1545.1 2892.8 1553.7 2892.8 1553.7 C2892.8 1553.7 2945.7 1587.9 2970.9 1607.5 C2996.2 1627.0 3019.8 1649.8 3044.2 1671.0 C3068.6 1692.1 3099.1 1719.8 3117.5 1734.4 C3135.8 1749.1 3154.1 1758.9 3154.1 1758.9 C3154.1 1758.9 2860.4 1956.4 2860.4 1956.4 C2860.4 1956.4 2479.8 1882.8 2479.8 1882.8 C2479.8 1882.8 2473.7 1885.3 2470.6 1887.4 C2467.5 1889.4 2461.4 1895.0 2461.4 1895.0Z" fill="#adadad"/>
<path d="M2479.8 1882.8 C2479.8 1882.8 2808.2 1612.7 2808.2 1612.7 C2808.2 1612.7 2807.7 1603.2 2809.7 1594.3 C2811.8 1585.3 2813.6 1566.7 2820.5 1559.0 C2827.4 1551.2 2840.4 1548.6 2851.2 1547.6 C2861.9 1546.6 2884.9 1552.8 2884.9 1552.8 C2884.9 1552.8 2883.8 1548.3 2892.8 1553.7 C2901.8 1559.2 2922.1 1572.5 2939.2 1585.5 C2956.3 1598.5 2973.8 1612.8 2995.4 1631.9 C3016.9 1651.0 3043.0 1679.1 3068.6 1700.3 C3094.3 1721.4 3149.2 1758.9 3149.2 1758.9 C3149.2 1758.9 2860.4 1971.8 2860.4 1971.8 C2860.4 1971.8 2538.1 1931.9 2538.1 1931.9 C2538.1 1931.9 2516.6 1947.2 2516.6 1947.2 C2516.6 1947.2 2507.4 1916.5 2507.4 1916.5 C2507.4 1916.5 2507.4 1887.4 2507.4 1887.4 C2507.4 1887.4 2496.7 1882.0 2492.1 1881.2 C2487.5 1880.5 2479.8 1882.8 2479.8 1882.8Z" fill="#bfbfbf"/>
<path d="M2516.6 1948.7 C2516.6 1948.7 2506.9 1922.4 2505.9 1910.4 C2504.9 1898.4 2506.7 1884.8 2510.5 1876.6 C2514.3 1868.4 2528.9 1861.3 2528.9 1861.3 C2528.9 1861.3 2840.4 1601.6 2840.4 1601.6 C2840.4 1601.6 2853.0 1589.2 2860.4 1585.7 C2867.8 1582.1 2874.7 1579.5 2884.9 1580.4 C2895.2 1581.4 2921.8 1591.2 2921.8 1591.2 C2921.8 1591.2 2902.1 1581.5 2905.0 1583.0 C2907.9 1584.5 2924.1 1590.8 2939.2 1600.1 C2954.3 1609.5 2973.8 1621.7 2995.4 1639.2 C3016.9 1656.7 3043.4 1685.2 3068.6 1705.1 C3093.9 1725.1 3146.8 1758.9 3146.8 1758.9 C3146.8 1758.9 2860.4 1987.1 2860.4 1987.1 C2860.4 1987.1 2538.1 1931.9 2538.1 1931.9 C2538.1 1931.9 2529.4 1938.3 2525.8 1941.1 C2522.3 1943.9 2516.6 1948.7 2516.6 1948.7Z" fill="#a3a3a3"/>
<path d="M2538.1 1931.9 C2538.1 1931.9 2854.2 1669.4 2854.2 1669.4 C2854.2 1669.4 2854.1 1656.9 2856.7 1646.4 C2859.3 1635.9 2863.9 1615.0 2869.6 1606.5 C2875.3 1598.1 2880.3 1596.8 2891.1 1595.8 C2901.8 1594.8 2934.0 1600.4 2934.0 1600.4 C2934.0 1600.4 2929.0 1593.7 2939.2 1600.1 C2949.4 1606.6 2973.8 1621.7 2995.4 1639.2 C3016.9 1656.7 3043.4 1685.2 3068.6 1705.1 C3093.9 1725.1 3146.8 1758.9 3146.8 1758.9 C3146.8 1758.9 3152.3 1758.3 3152.3 1758.3 C3152.3 1758.3 3145.1 1849.0 3145.1 1849.0 C3145.1 1849.0 3058.0 1917.9 3058.0 1917.9 C3058.0 1917.9 3000.0 1952.4 3000.0 1952.4 C3000.0 1952.4 2953.1 2001.8 2929.7 2021.9 C2906.2 2041.9 2882.2 2061.3 2859.4 2072.7 C2836.6 2084.0 2815.1 2085.7 2793.0 2090.2 C2770.8 2094.8 2726.6 2100.0 2726.6 2100.0 C2726.6 2100.0 2619.8 1982.2 2593.8 1955.5 C2567.7 1928.8 2578.8 1943.6 2570.3 1939.8 C2561.8 1936.1 2543.0 1932.8 2543.0 1932.8 C2543.0 1932.8 2538.1 1931.9 2538.1 1931.9Z" fill="#b51b2e"/>
<path d="M2856.7 1671.0 C2856.7 1671.0 2855.8 1648.0 2858.1 1636.8 C2860.5 1625.6 2863.4 1610.9 2870.8 1603.8 C2878.2 1596.7 2891.2 1594.6 2902.6 1594.0 C2914.0 1593.4 2939.2 1600.1 2939.2 1600.1 C2939.2 1600.1 2970.9 1618.4 2970.9 1618.4 C2970.9 1618.4 2956.7 1613.0 2946.5 1613.6 C2936.3 1614.2 2924.7 1616.2 2909.9 1622.1 C2895.1 1628.0 2857.6 1649.0 2857.6 1649.0 C2857.6 1649.0 2856.7 1671.0 2856.7 1671.0Z" fill="#a81c2b"/>
<path d="M2726.6 2100.0 C2726.6 2100.0 2773.4 2102.9 2796.9 2100.0 C2820.3 2097.1 2843.8 2093.8 2867.2 2082.4 C2890.6 2071.0 2912.8 2052.5 2937.5 2031.6 C2962.2 2010.8 2994.8 1975.3 3015.6 1957.4 C3036.5 1939.5 3050.8 1932.4 3062.5 1924.2 C3074.2 1916.1 3085.9 1908.6 3085.9 1908.6 C3085.9 1908.6 3085.9 1873.4 3085.9 1873.4 C3085.9 1873.4 3067.1 1894.9 3050.8 1908.6 C3034.5 1922.3 3009.1 1938.5 2988.3 1955.5 C2967.4 1972.4 2948.6 1992.3 2925.8 2010.2 C2903.0 2028.1 2874.3 2051.2 2851.6 2062.9 C2828.8 2074.6 2810.5 2075.3 2789.1 2080.5 C2767.6 2085.7 2722.7 2094.1 2722.7 2094.1 C2722.7 2094.1 2726.6 2100.0 2726.6 2100.0Z" fill="#a01b2b"/>
<path d="M3272.8 1678.1 C3275.1 1666.5 3279.7 1654.9 3289.5 1641.9 C3299.3 1628.8 3331.4 1600.0 3331.4 1600.0 C3331.4 1600.0 3343.9 1600.0 3343.9 1600.0 C3343.9 1600.0 3343.0 1620.2 3343.2 1627.9 C3343.5 1635.6 3343.6 1641.7 3345.3 1646.0 C3347.1 1650.3 3351.2 1652.2 3353.7 1653.7 C3356.1 1655.2 3358.6 1654.1 3360.0 1655.1 C3361.4 1656.2 3361.9 1658.2 3362.1 1660.0 C3362.2 1661.7 3360.4 1661.6 3360.9 1665.6 C3361.5 1669.5 3364.8 1677.0 3365.5 1683.7 C3366.3 1690.4 3366.8 1699.1 3365.5 1706.0 C3364.3 1713.0 3361.2 1720.7 3357.9 1725.6 C3354.5 1730.4 3352.1 1732.6 3345.3 1735.3 C3338.6 1738.1 3325.3 1741.6 3317.4 1742.0 C3309.5 1742.5 3302.8 1740.2 3297.9 1738.1 C3293.0 1736.1 3291.8 1734.2 3288.1 1729.7 C3284.4 1725.3 3278.1 1720.2 3275.6 1711.6 C3273.0 1703.0 3270.4 1689.8 3272.8 1678.1Z" fill="#f9dbdd"/>
<path d="M3244.9 1751.4 C3244.9 1751.4 3274.9 1706.0 3274.9 1706.0 C3274.9 1706.0 3285.6 1719.5 3290.9 1725.6 C3296.3 1731.6 3306.9 1742.3 3306.9 1742.3 C3306.9 1742.3 3297.9 1771.6 3297.9 1771.6 C3297.9 1771.6 3279.7 1781.4 3279.7 1781.4 C3279.7 1781.4 3261.8 1771.0 3256.0 1766.0 C3250.2 1761.0 3244.9 1751.4 3244.9 1751.4Z" fill="#f9dbdd"/>
<path d="M3290.2 1732.5 L3306.9 1742.3 L3300.4 1756.3Z" fill="#d6babd"/>
<path d="M3275.8 1710.2 C3275.5 1713.1 3276.0 1720.7 3273.5 1726.3 C3271.0 1731.8 3265.9 1739.2 3260.9 1743.7 C3255.9 1748.2 3247.1 1751.9 3243.5 1753.2 C3239.9 1754.5 3239.3 1751.4 3239.3 1751.4 C3239.3 1751.4 3253.5 1745.2 3258.8 1740.9 C3264.2 1736.6 3268.6 1730.9 3271.4 1725.6 C3274.2 1720.2 3275.6 1708.8 3275.6 1708.8 C3275.6 1708.8 3276.2 1707.3 3275.8 1710.2Z" fill="#d6babd"/>
<path d="M3185.2 1709.1 C3185.4 1696.9 3184.4 1665.2 3185.2 1650.5 C3185.9 1635.9 3187.4 1629.8 3189.6 1621.2 C3191.8 1612.7 3194.0 1606.1 3198.4 1599.2 C3202.8 1592.4 3210.3 1584.6 3215.9 1580.2 C3221.6 1575.8 3218.6 1574.3 3232.1 1572.8 C3245.5 1571.4 3283.4 1573.3 3296.6 1571.4 C3309.7 1569.4 3305.6 1561.6 3311.2 1561.1 C3316.8 1560.6 3324.6 1564.5 3330.3 1568.4 C3335.9 1572.4 3341.7 1579.2 3344.9 1584.6 C3348.1 1589.9 3349.1 1594.1 3349.3 1600.7 C3349.6 1607.3 3348.1 1617.8 3346.4 1624.1 C3344.7 1630.5 3342.2 1634.6 3339.0 1638.8 C3335.9 1642.9 3331.7 1646.1 3327.3 1649.0 C3322.9 1652.0 3312.7 1656.4 3312.7 1656.4 C3312.7 1656.4 3318.7 1646.6 3320.0 1641.7 C3321.3 1636.8 3320.7 1627.1 3320.7 1627.1 C3320.7 1627.1 3313.3 1640.5 3306.8 1647.6 C3300.3 1654.7 3281.9 1669.6 3281.9 1669.6 C3281.9 1669.6 3281.2 1673.9 3280.4 1678.1 C3279.7 1682.2 3278.3 1689.4 3277.5 1694.5 C3276.7 1699.6 3276.6 1703.7 3275.6 1708.8 C3274.6 1714.0 3274.2 1720.2 3271.3 1725.5 C3268.5 1730.9 3263.6 1736.9 3258.7 1740.9 C3253.9 1745.0 3250.2 1748.1 3242.0 1750.0 C3233.9 1751.9 3218.0 1749.4 3209.9 1752.4 C3201.9 1755.3 3194.0 1767.8 3194.0 1767.8 C3194.0 1767.8 3158.8 1769.2 3158.8 1769.2 C3158.8 1769.2 3169.3 1753.3 3173.4 1745.8 C3177.6 1738.2 3181.8 1729.9 3183.7 1723.8 C3185.7 1717.7 3184.9 1721.3 3185.2 1709.1Z" fill="#600000"/>
<path d="M3264.1 1689.3 C3264.6 1685.8 3267.4 1680.2 3269.3 1678.1 C3271.2 1676.1 3273.5 1675.7 3275.6 1677.0 C3277.7 1678.3 3281.0 1681.0 3281.8 1685.8 C3282.7 1690.6 3281.6 1702.1 3280.4 1706.0 C3279.3 1710.0 3277.2 1710.7 3274.9 1709.5 C3272.5 1708.4 3268.3 1702.4 3266.5 1699.1 C3264.7 1695.7 3263.7 1692.8 3264.1 1689.3Z" fill="#f7d1d3"/>
<path d="M3280.4 1670.5 C3280.4 1670.5 3284.8 1644.9 3284.8 1644.9 C3284.8 1644.9 3286.5 1650.5 3286.2 1654.7 C3285.8 1658.8 3282.5 1669.8 3282.5 1669.8 C3282.5 1669.8 3280.4 1670.5 3280.4 1670.5Z" fill="#f9dbdd"/>
<path d="M3252.6 1504.0 C3252.6 1504.0 3264.3 1510.6 3264.3 1510.6 C3264.3 1510.6 3252.8 1516.1 3246.7 1520.1 C3240.6 1524.1 3232.8 1529.6 3227.7 1534.7 C3222.6 1539.9 3218.7 1544.3 3216.2 1550.9 C3213.8 1557.5 3213.7 1566.0 3213.0 1574.3 C3212.3 1582.6 3211.6 1591.4 3211.8 1600.7 C3212.1 1610.0 3213.1 1620.5 3214.5 1630.0 C3215.9 1639.5 3219.2 1652.5 3220.3 1657.8 C3221.4 1663.2 3221.1 1662.2 3221.1 1662.2 C3221.1 1662.2 3220.2 1665.9 3216.7 1666.6 C3213.1 1667.4 3203.6 1667.7 3199.8 1666.9 C3196.1 1666.2 3194.3 1662.2 3194.3 1662.2 C3194.3 1662.2 3195.4 1644.7 3196.6 1635.9 C3197.8 1627.1 3200.6 1619.3 3201.6 1609.5 C3202.6 1599.7 3201.8 1587.0 3202.5 1577.2 C3203.1 1567.5 3203.7 1558.1 3205.7 1550.9 C3207.7 1543.7 3210.1 1539.3 3214.5 1534.0 C3218.9 1528.8 3225.7 1524.4 3232.1 1519.4 C3238.4 1514.3 3252.6 1504.0 3252.6 1504.0Z" fill="#a3461f"/>
<path d="M3229.1 1547.2 C3229.1 1547.2 3301.7 1531.8 3301.7 1531.8 C3301.7 1531.8 3311.9 1559.7 3311.9 1559.7 C3311.9 1559.7 3310.1 1567.7 3303.9 1571.4 C3297.6 1575.0 3284.3 1579.3 3274.6 1581.6 C3264.8 1584.0 3253.2 1585.7 3245.3 1585.3 C3237.3 1584.9 3226.9 1579.4 3226.9 1579.4 C3226.9 1579.4 3225.1 1573.8 3225.5 1568.4 C3225.8 1563.1 3229.1 1547.2 3229.1 1547.2Z" fill="#000000"/>
<path d="M3169.1 1508.4 L3173.4 1504.0 L3283.4 1484.9 L3343.4 1515.7 L3345.2 1520.8 L3341.2 1523.7 L3218.9 1549.4 L3168.8 1511.3Z" fill="#2a2a2a"/>
<path d="M3169.1 1507.2 L3173.4 1504.0 L3283.4 1484.9 L3343.4 1515.7 L3343.4 1519.8 L3218.9 1546.5 L3169.8 1509.8Z" fill="#000000"/>
<path d="M3252.6 1504.0 C3252.6 1504.0 3264.3 1510.6 3264.3 1510.6 C3264.3 1510.6 3252.8 1516.1 3246.7 1520.1 C3240.6 1524.1 3232.3 1530.3 3227.7 1534.7 C3223.0 1539.1 3218.9 1546.5 3218.9 1546.5 C3218.9 1546.5 3211.6 1550.9 3211.6 1550.9 C3211.6 1550.9 3211.1 1539.3 3214.5 1534.0 C3217.9 1528.8 3225.7 1524.4 3232.1 1519.4 C3238.4 1514.3 3252.6 1504.0 3252.6 1504.0Z" fill="#a3461f"/>
<ellipse cx="3258.4" cy="1506.9" rx="7.3" ry="4.7" fill="#333"/>
<path d="M3341.0 1771.0 C3341.0 1771.0 3366.1 1762.5 3380.0 1756.2 C3393.9 1749.8 3408.6 1741.9 3424.2 1732.7 C3439.8 1723.6 3457.7 1712.3 3473.8 1701.3 C3489.8 1690.2 3511.7 1673.3 3520.6 1666.4 C3529.6 1659.5 3522.4 1666.0 3527.3 1659.7 C3532.2 1653.5 3544.7 1635.4 3550.1 1628.9 C3555.4 1622.5 3555.7 1624.5 3559.5 1620.9 C3563.3 1617.3 3567.9 1612.1 3572.9 1607.5 C3577.8 1602.9 3585.5 1595.6 3588.9 1593.4 C3592.4 1591.3 3592.9 1593.4 3593.6 1594.4 C3594.3 1595.4 3595.7 1594.6 3592.9 1599.5 C3590.2 1604.3 3579.4 1618.3 3576.9 1623.6 C3574.3 1628.8 3576.4 1628.7 3577.5 1630.9 C3578.7 1633.2 3582.3 1635.0 3583.6 1637.0 C3584.8 1639.0 3585.4 1639.6 3584.9 1643.0 C3584.5 1646.3 3583.6 1652.7 3580.9 1657.1 C3578.2 1661.4 3572.6 1666.4 3568.8 1669.1 C3565.0 1671.8 3560.6 1672.2 3558.1 1673.1 C3555.7 1674.0 3561.5 1668.7 3554.1 1674.5 C3546.7 1680.3 3530.7 1693.7 3513.9 1707.9 C3497.2 1722.2 3478.6 1743.0 3453.7 1760.2 C3428.8 1777.3 3364.5 1810.9 3364.5 1810.9 C3364.5 1810.9 3341.0 1771.0 3341.0 1771.0Z" fill="#f9dbdd"/>
<path d="M3041.3 1801.5 C3041.3 1801.5 3074.7 1786.5 3089.1 1780.3 C3103.4 1774.1 3111.3 1768.8 3127.2 1764.4 C3143.1 1760.0 3170.5 1755.9 3184.5 1753.8 C3198.4 1751.7 3211.0 1751.7 3211.0 1751.7 C3211.0 1751.7 3209.8 1758.2 3212.1 1763.3 C3214.3 1768.5 3217.7 1775.7 3224.8 1782.4 C3231.8 1789.1 3246.0 1798.5 3254.5 1803.6 C3262.9 1808.7 3275.7 1813.2 3275.7 1813.2 C3275.7 1813.2 3294.7 1804.5 3299.0 1799.4 C3303.2 1794.2 3301.1 1782.4 3301.1 1782.4 C3301.1 1782.4 3318.8 1773.2 3326.6 1770.7 C3334.3 1768.3 3347.8 1767.6 3347.8 1767.6 C3347.8 1767.6 3364.7 1814.2 3364.7 1814.2 C3364.7 1814.2 3284.1 1846.0 3284.1 1846.0 C3284.1 1846.0 3280.3 1863.7 3277.8 1871.5 C3275.3 1879.2 3273.2 1885.6 3269.3 1892.7 C3265.4 1899.7 3260.5 1907.2 3254.5 1913.9 C3248.5 1920.6 3241.7 1926.3 3233.3 1933.0 C3224.8 1939.7 3211.3 1947.1 3203.6 1954.2 C3195.8 1961.2 3190.7 1969.5 3186.6 1975.4 C3182.5 1981.2 3179.2 1989.2 3179.2 1989.2 C3179.2 1989.2 3059.4 1924.5 3059.4 1924.5 C3059.4 1924.5 3066.4 1921.3 3072.1 1916.0 C3077.8 1910.7 3086.9 1902.2 3093.3 1892.7 C3099.7 1883.1 3104.6 1871.5 3110.3 1858.7 C3115.9 1846.0 3127.2 1816.3 3127.2 1816.3 C3127.2 1816.3 3097.5 1831.2 3097.5 1831.2 C3097.5 1831.2 3092.1 1832.9 3082.7 1828.0 C3073.3 1823.1 3041.3 1801.5 3041.3 1801.5Z" fill="#407cd6"/>
<path d="M3284.1 1833.3 C3284.1 1833.3 3309.6 1830.1 3322.3 1824.8 C3335.0 1819.5 3360.5 1801.5 3360.5 1801.5 C3360.5 1801.5 3364.7 1814.2 3364.7 1814.2 C3364.7 1814.2 3284.1 1846.0 3284.1 1846.0 C3284.1 1846.0 3284.1 1833.3 3284.1 1833.3Z" fill="#3566b8"/>
<path d="M3059.4 1924.5 L3179.2 1989.2 L3176.0 2000.0 L3052.0 1928.7Z" fill="#ebe8f0"/>
<path d="M3000.0 1952.0 C3000.0 1952.0 3017.0 1933.3 3025.4 1926.6 C3033.9 1919.9 3043.5 1916.0 3050.9 1911.8 C3058.3 1907.5 3062.2 1907.2 3070.0 1901.2 C3077.8 1895.1 3089.4 1886.3 3097.5 1875.7 C3105.7 1865.1 3113.8 1847.4 3118.7 1837.5 C3123.7 1827.6 3127.2 1816.3 3127.2 1816.3 C3127.2 1816.3 3115.9 1846.0 3110.3 1858.7 C3104.6 1871.5 3099.7 1883.1 3093.3 1892.7 C3086.9 1902.2 3077.8 1910.7 3072.1 1916.0 C3066.4 1921.3 3059.4 1924.5 3059.4 1924.5 C3059.4 1924.5 3041.7 1930.1 3031.8 1935.1 C3021.9 1940.0 3000.0 1954.2 3000.0 1954.2 C3000.0 1954.2 3000.0 1952.0 3000.0 1952.0Z" fill="#a01b2b"/>
<path d="M3211.0 1751.7 C3211.0 1751.7 3241.7 1748.5 3241.7 1748.5 C3241.7 1748.5 3258.3 1772.9 3265.1 1778.2 C3271.8 1783.5 3282.0 1780.3 3282.0 1780.3 C3282.0 1780.3 3293.7 1771.8 3293.7 1771.8 C3293.7 1771.8 3300.1 1779.2 3301.1 1784.5 C3302.2 1789.8 3301.3 1799.6 3300.1 1803.6 C3298.8 1807.7 3296.0 1808.9 3293.7 1808.9 C3291.4 1808.9 3286.3 1803.6 3286.3 1803.6 C3286.3 1803.6 3281.0 1813.2 3275.7 1813.2 C3270.4 1813.2 3262.9 1808.7 3254.5 1803.6 C3246.0 1798.5 3231.8 1789.1 3224.8 1782.4 C3217.7 1775.7 3214.3 1768.5 3212.1 1763.3 C3209.8 1758.2 3211.0 1751.7 3211.0 1751.7Z" fill="#efedf2"/>
<path d="M3243.9 1803.6 C3243.9 1803.6 3259.4 1800.4 3265.1 1797.3 C3270.7 1794.1 3277.8 1784.5 3277.8 1784.5 C3277.8 1784.5 3286.3 1803.6 3286.3 1803.6 C3286.3 1803.6 3281.0 1812.4 3275.7 1813.2 C3270.4 1813.9 3259.8 1809.9 3254.5 1808.3 C3249.2 1806.7 3243.9 1803.6 3243.9 1803.6Z" fill="#ffffff"/>
<path d="M3080.6 1839.7 L3127.2 1816.3 L3115.6 1845.0Z" fill="#a31b2b"/>
<path d="M3007.4 1843.9 C3007.8 1839.7 3010.1 1835.1 3017.0 1829.1 C3023.9 1823.1 3048.8 1807.9 3048.8 1807.9 C3048.8 1807.9 3099.7 1831.2 3099.7 1831.2 C3099.7 1831.2 3081.6 1838.6 3081.6 1838.6 C3081.6 1838.6 3114.5 1845.0 3114.5 1845.0 C3114.5 1845.0 3161.2 1837.5 3161.2 1837.5 C3161.2 1837.5 3165.8 1824.8 3169.6 1820.6 C3173.5 1816.3 3178.8 1812.1 3184.5 1812.1 C3190.1 1812.1 3199.2 1816.3 3203.6 1820.6 C3208.0 1824.8 3209.9 1831.2 3211.0 1837.5 C3212.1 1843.9 3211.5 1852.7 3209.9 1858.7 C3208.3 1864.8 3205.3 1870.4 3201.4 1873.6 C3197.6 1876.8 3186.6 1877.8 3186.6 1877.8 C3186.6 1877.8 3154.8 1879.8 3137.8 1878.9 C3120.9 1878.0 3100.7 1875.2 3084.8 1872.5 C3068.9 1869.9 3054.1 1866.0 3042.4 1863.0 C3030.7 1860.0 3020.7 1857.7 3014.8 1854.5 C3009.0 1851.3 3007.1 1848.1 3007.4 1843.9Z" fill="#f9dbdd"/>
<path d="M3184.1 1751.7 C3184.1 1751.7 3199.3 1751.7 3199.3 1751.7 C3199.3 1751.7 3200.2 1814.9 3199.3 1829.1 C3198.4 1843.2 3196.5 1835.0 3194.0 1836.5 C3191.6 1838.0 3187.2 1838.2 3184.5 1838.0 C3181.8 1837.7 3178.9 1836.3 3177.7 1835.0 C3176.5 1833.7 3176.1 1834.3 3177.1 1830.1 C3178.1 1826.0 3183.6 1810.0 3183.6 1810.0 C3183.6 1810.0 3184.1 1751.7 3184.1 1751.7Z" fill="#8d8fb0"/>
<path d="M3169.6 1877.8 C3169.6 1877.8 3186.6 1877.8 3186.6 1877.8 C3186.6 1877.8 3185.2 1888.1 3182.4 1892.7 C3179.5 1897.3 3175.3 1902.2 3169.6 1905.4 C3164.0 1908.6 3156.9 1910.7 3148.4 1911.8 C3140.0 1912.8 3129.4 1913.0 3118.7 1911.8 C3108.1 1910.5 3090.8 1906.6 3084.8 1904.3 C3078.9 1902.0 3082.4 1900.1 3083.1 1898.0 C3083.8 1895.9 3081.7 1891.7 3089.1 1891.6 C3096.4 1891.5 3117.3 1896.7 3127.2 1897.3 C3137.1 1897.9 3143.3 1896.7 3148.4 1895.2 C3153.6 1893.7 3154.4 1891.3 3158.0 1888.4 C3161.5 1885.5 3169.6 1877.8 3169.6 1877.8Z" fill="#8d8fb0"/>
<path d="M3058.6 1926.2 C3058.6 1926.2 3169.9 1998.4 3169.9 1998.4 C3169.9 1998.4 3157.2 2035.5 3148.4 2053.1 C3139.6 2070.7 3130.9 2088.3 3117.2 2103.9 C3103.5 2119.5 3091.1 2130.6 3066.4 2146.9 C3041.7 2163.2 2998.0 2186.6 2968.8 2201.6 C2939.5 2216.5 2931.6 2221.7 2890.6 2236.7 C2849.6 2251.7 2722.7 2291.4 2722.7 2291.4 C2722.7 2291.4 2695.3 2236.7 2695.3 2236.7 C2695.3 2236.7 2855.5 2182.8 2890.6 2171.1 C2925.8 2159.4 2889.6 2178.3 2906.2 2166.4 C2922.9 2154.6 2990.2 2100.0 2990.2 2100.0 C2990.2 2100.0 2955.4 2126.4 2898.4 2141.0 C2841.5 2155.7 2648.4 2187.9 2648.4 2187.9 C2648.4 2187.9 2637.5 2190.6 2637.5 2190.6 C2637.5 2190.6 2630.9 2119.5 2630.9 2119.5 C2630.9 2119.5 2730.5 2103.9 2730.5 2103.9 C2730.5 2103.9 2826.2 2085.7 2859.4 2072.7 C2892.6 2059.6 2904.9 2046.6 2929.7 2025.8 C2954.4 2004.9 2986.3 1964.3 3007.8 1947.7 C3029.3 1931.1 3058.6 1926.2 3058.6 1926.2 C3058.6 1926.2 3058.6 1926.2 3058.6 1926.2Z" fill="#3b394c"/>
<path d="M2990.2 2098.0 C2990.2 2098.0 3050.8 2059.0 3050.8 2059.0 C3050.8 2059.0 3031.2 2071.0 3023.4 2076.6 C3015.6 2082.1 3009.4 2088.6 3003.9 2092.2 C2998.4 2095.8 2990.2 2098.0 2990.2 2098.0Z" fill="#000000"/>
<path d="M2597.7 2128.1 L2632.0 2126.6 L2634.8 2176.2 L2621.9 2185.9 L2616.4 2203.5 L2600.8 2199.6Z" fill="#f9dbdd"/>
<path d="M2666.0 2255.5 L2695.3 2245.3 L2715.6 2288.3 L2703.9 2299.2 L2703.1 2323.4 L2683.6 2324.6Z" fill="#f9dbdd"/>
<path d="M2574.2 2132.0 C2578.9 2128.1 2598.4 2127.3 2598.4 2127.3 C2598.4 2127.3 2600.8 2199.6 2600.8 2199.6 C2600.8 2199.6 2617.2 2204.7 2617.2 2204.7 C2617.2 2204.7 2616.1 2219.0 2612.5 2225.0 C2608.9 2231.0 2600.7 2239.0 2595.7 2240.6 C2590.8 2242.3 2586.5 2242.6 2582.8 2234.8 C2579.1 2227.0 2575.5 2207.7 2573.4 2193.8 C2571.4 2179.8 2570.2 2161.1 2570.3 2150.8 C2570.4 2140.5 2569.5 2135.9 2574.2 2132.0Z" fill="#3b394c"/>
<path d="M2645.3 2264.8 C2649.4 2261.4 2666.0 2255.1 2666.0 2255.1 C2666.0 2255.1 2683.6 2323.4 2683.6 2323.4 C2683.6 2323.4 2703.9 2324.6 2703.9 2324.6 C2703.9 2324.6 2706.2 2346.9 2703.9 2353.9 C2701.6 2360.9 2694.6 2365.8 2690.2 2366.4 C2685.9 2367.1 2684.4 2368.4 2677.7 2357.8 C2671.1 2347.3 2656.4 2316.8 2650.4 2303.1 C2644.3 2289.5 2642.3 2282.2 2641.4 2275.8 C2640.6 2269.4 2641.2 2268.3 2645.3 2264.8Z" fill="#3b394c"/>
</g>

</svg>
</body></html>
